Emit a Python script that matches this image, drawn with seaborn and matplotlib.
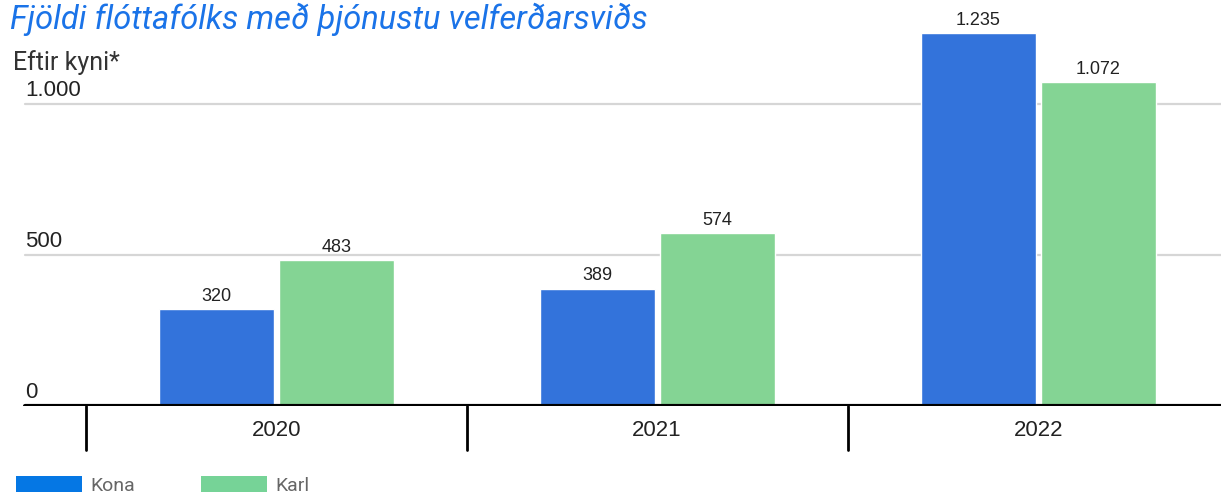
import numpy as np
import pandas as pd
import seaborn as sns
import matplotlib.pyplot as plt
from matplotlib.patches import Patch
import matplotlib.transforms as mtransforms

# data
years = ["2020", "2021", "2022"]
kona = [320, 389, 1235]
karl = [483, 574, 1072]
groups = ["Kona", "Karl"]
yticks = [0, 500, 1000]
ytick_labels = ["0", "500", "1.000"]

bar_colors = ["#3373db", "#84d494"]
legend_colors = ["#0577e4", "#76d397"]

df = pd.DataFrame({
    "year": years * 2,
    "kyn": ["Kona"] * 3 + ["Karl"] * 3,
    "fjoldi": kona + karl,
})

sns.set_style("white")
plt.rcParams['font.family'] = ['Liberation Sans', 'DejaVu Sans']

fig = plt.figure(figsize=(12.21, 4.95), dpi=100)
ax = fig.add_axes([0.0, 0.1798, 1.0, 0.8202])

sns.barplot(data=df, x="year", y="fjoldi", hue="kyn", hue_order=groups,
            palette=bar_colors, width=0.63, gap=0.04, ax=ax,
            legend=False, saturation=1)

ax.set_xlim(-0.725, 2.48)
ax.set_ylim(0, 1345)
for s in ax.spines.values():
    s.set_visible(False)
ax.set_xlabel("")
ax.set_ylabel("")
ax.set_yticks([])
ax.set_xticks([])

# gridlines and y labels above them
trans = mtransforms.blended_transform_factory(ax.transAxes, ax.transData)
for v, lab in zip(yticks, ytick_labels):
    if v > 0:
        ax.axhline(v, xmin=0.0205, xmax=1, color="#d6d6d6", lw=1.6, zorder=0)
    ax.annotate(lab, (0.0205, v), xycoords=trans, xytext=(0, 2),
                textcoords="offset points", ha="left", va="bottom",
                fontsize=16, color="#222222")

# baseline
ax.axhline(0, xmin=0.0205, xmax=1, color="black", lw=3, zorder=5)

# value labels
for cont in ax.containers:
    ax.bar_label(cont, labels=[f"{int(v):,}".replace(",", ".") for v in cont.datavalues],
                 padding=3, fontsize=13, color="#222222")

# category separators and year labels below axis
for i, y in enumerate(years):
    ax.annotate(y, (i, 0), xycoords="data", xytext=(0, -18),
                textcoords="offset points", ha="center", va="center",
                fontsize=16, color="#222222", annotation_clip=False)
for b in [-0.5, 0.5, 1.5]:
    ax.plot([b, b], [0, -145], color="black", lw=2, clip_on=False)

# title / subtitle
fig.text(0.008, 0.942, "Fjöldi flóttafólks með þjónustu velferðarsviðs",
         fontsize=23.5, style="italic", color="#1a73e8", family=["Roboto", "DejaVu Sans"])
fig.text(0.011, 0.858, "Eftir kyni*", fontsize=18, color="#333333",
         family=["Roboto", "DejaVu Sans"])

handles = [Patch(facecolor=c, edgecolor="none", label=g) for c, g in zip(legend_colors, groups)]
fig.legend(handles=handles, loc="lower left", bbox_to_anchor=(-0.001, -0.035), ncol=2,
           frameon=False, handlelength=3.4, handleheight=0.88,
           handletextpad=0.4, columnspacing=3.4, labelcolor="#666666",
           prop={"family": ["Roboto", "DejaVu Sans"], "size": 14})

fig.savefig("out.png", dpi=100)
